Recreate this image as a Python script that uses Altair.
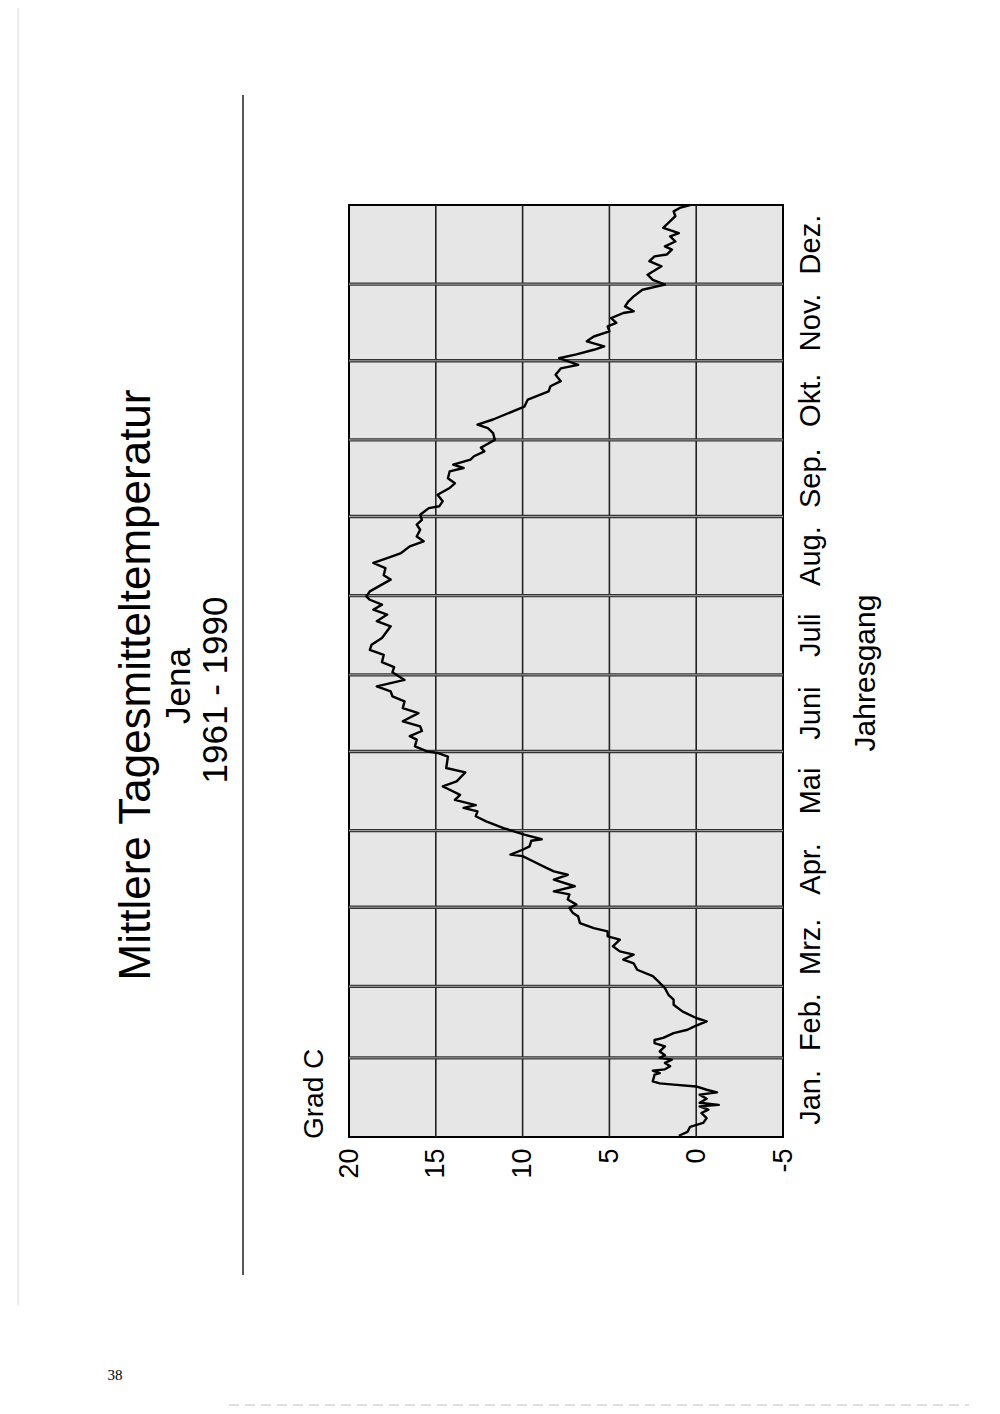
import altair as alt
import pandas as pd

# ---- data (day of year, mean daily temperature in °C) ----
days = [0.5, 2.0, 4.0, 5.5, 7.4, 9.4, 10.7, 12.0, 12.6, 13.4, 15.0, 16.6, 17.5, 18.5, 19.8,
        20.5, 21.0, 21.8, 24.4, 25.0, 26.0, 26.5, 27.7, 29.0, 30.3, 31.0, 32.0, 33.5, 35.5,
        36.8, 38.0, 38.8, 40.7, 42.0, 43.3, 45.3, 46.6, 49.2, 51.8, 53.8, 55.7, 58.3, 59.7,
        61.0, 63.0, 65.5, 68.0, 69.5, 71.4, 72.7, 74.7, 77.3, 78.6, 80.5, 81.8, 83.8, 86.4,
        87.7, 89.7, 91.0, 93.0, 95.0, 96.2, 98.2, 100.8, 102.7, 104.0, 105.3, 108.0, 110.0,
        110.6, 112.5, 113.8, 116.0, 116.6, 118.4, 119.7, 121.0, 123.6, 125.6, 127.5, 128.9,
        130.0, 132.0, 134.0, 136.0, 137.3, 139.3, 142.8, 144.5, 149.0, 150.4, 151.0, 153.0,
        155.6, 157.0, 159.0, 160.8, 162.8, 166.0, 168.0, 170.6, 172.6, 174.5, 176.5, 179.0,
        182.0, 184.0, 186.0, 188.8, 190.8, 192.8, 195.4, 200.0, 202.0, 204.6, 206.5, 208.5,
        210.4, 211.7, 213.7, 218.3, 220.0, 222.8, 224.8, 226.7, 228.7, 231.3, 233.3, 235.2,
        237.8, 239.8, 241.7, 243.7, 246.3, 247.0, 249.0, 251.5, 254.2, 256.0, 258.0, 260.7,
        262.0, 263.3, 265.3, 266.6, 268.5, 270.0, 271.1, 273.0, 275.7, 277.6, 279.0, 281.0,
        286.0, 288.8, 292.0, 294.0, 296.0, 298.5, 301.0, 302.4, 305.0, 306.5, 308.3, 309.6,
        311.6, 313.5, 315.5, 317.5, 318.8, 320.7, 322.7, 323.4, 325.3, 327.3, 329.2, 331.8,
        333.8, 335.7, 337.7, 341.0, 343.0, 344.9, 345.6, 347.5, 348.8, 350.7, 352.7, 354.0,
        356.0, 358.0, 360.6, 362.5, 364.0, 365.0]
temps = [1.0, 0.5, 0.35, -0.4, -0.6, -0.3, -0.7, -0.2, -1.3, -0.2, -0.6, -0.2, -1.2, -0.6, 0.0,
         1.3, 2.1, 2.5, 2.4, 2.1, 2.5, 1.8, 1.5, 1.8, 1.4, 2.1, 1.8, 2.1, 1.8,
         2.4, 2.4, 1.9, 1.3, 0.5, 0.1, -0.6, 0.0, 0.8, 1.3, 1.3, 1.6, 1.8, 2.0,
         2.2, 2.5, 3.4, 3.6, 4.2, 3.6, 4.4, 4.8, 4.4, 5.1, 5.1, 5.9, 6.7, 6.8,
         7.1, 7.3, 6.9, 7.4, 7.3, 8.2, 7.0, 8.2, 7.4, 8.2, 8.6, 9.4, 10.0,
         10.7, 10.0, 9.6, 9.5, 8.9, 9.9, 10.5, 11.1, 12.1, 12.7, 12.6, 13.4,
         12.7, 13.9, 13.6, 14.2, 14.6, 13.8, 13.3, 14.4, 14.3, 14.9, 15.5, 16.2,
         16.1, 16.5, 15.8, 15.9, 16.9, 16.0, 16.9, 16.8, 17.5, 17.6, 18.4, 16.8,
         17.5, 17.4, 18.1, 18.0, 18.8, 18.7, 18.1, 17.6, 18.4, 17.8, 18.6, 18.1,
         18.8, 19.0, 18.8, 17.6, 18.0, 17.9, 18.6, 17.8, 17.0, 16.5, 15.7, 16.1,
         15.9, 16.1, 15.8, 15.9, 15.4, 14.8, 14.6, 14.9, 14.2, 13.9, 14.3, 14.2,
         13.4, 14.0, 13.0, 12.8, 12.2, 12.4, 12.1, 11.6, 11.7, 12.0, 12.6, 11.7,
         9.9, 9.7, 8.5, 8.4, 7.8, 8.1, 7.8, 6.8, 7.9, 6.9, 5.9, 5.3,
         6.3, 5.9, 5.0, 5.1, 4.6, 4.9, 4.2, 3.6, 4.1, 3.9, 3.6, 3.1,
         1.8, 2.5, 2.8, 2.0, 2.7, 2.4, 1.7, 1.4, 1.8, 1.2, 1.5, 1.0,
         1.9, 1.6, 1.2, 1.3, 0.9, 0.35]

month_names = ["Jan.", "Feb.", "Mrz.", "Apr.", "Mai", "Juni", "Juli", "Aug.",
               "Sep.", "Okt.", "Nov.", "Dez."]
month_mid = [15.5, 45, 74.5, 105, 135.5, 166, 196.5, 227.5, 258, 288.5, 319, 349.5]
month_bounds = [31, 59, 90, 120, 151, 181, 212, 243, 273, 304, 334]
temp_grid = [15, 10, 5, 0]
temp_ticks = [20, 15, 10, 5, 0, -5]

FONT = "Liberation Sans"
W, H = 434, 932

curve_df = pd.DataFrame({"day": days, "temp": temps})
months_df = pd.DataFrame({"day": month_mid, "name": month_names})
bounds_df = pd.DataFrame({"day": month_bounds})
tgrid_df = pd.DataFrame({"temp": temp_grid})

xscale = alt.Scale(domain=[-5, 20], reverse=True, nice=False, zero=False)
yscale = alt.Scale(domain=[0, 365], nice=False, zero=False)
xaxis = alt.Axis(values=temp_ticks, labelAngle=270, labelAlign="right",
                 labelBaseline="middle", labelPadding=11, labelFontSize=27,
                 labelFont=FONT, labelColor="black", ticks=False, domain=False,
                 grid=False, title=None, labelOverlap=False, labelFlush=False,
                 labelBound=False, labelExpr="toString(datum.value)")
X = alt.X("temp:Q", scale=xscale, axis=xaxis)
Y = alt.Y("day:Q", scale=yscale, axis=None)

tgrid = alt.Chart(tgrid_df).mark_rule(color="#222", strokeWidth=1.6).encode(x=X)

mgrid_outer = alt.Chart(bounds_df).mark_rule(color="#333", strokeWidth=3.4).encode(y=Y)
mgrid_inner = alt.Chart(bounds_df).mark_rule(color="#b0b0b0", strokeWidth=0.9).encode(y=Y)

curve = alt.Chart(curve_df).mark_line(color="black", strokeWidth=2.4,
                                      strokeJoin="round").encode(
    x=X, y=Y, order="day:Q")

month_text = alt.Chart(months_df).mark_text(
    angle=270, align="center", baseline="middle", fontSize=29, font=FONT,
    color="black").encode(y=Y, x=alt.value(W + 28), text="name:N")


def label(txt, x, y, size, align="center", baseline="middle", angle=270,
          font=FONT):
    return alt.Chart(pd.DataFrame({"t": [txt]})).mark_text(
        angle=angle, align=align, baseline=baseline, fontSize=size,
        font=font, color="black").encode(
        x=alt.value(x), y=alt.value(y), text="t:N")


title1 = label("Mittlere Tagesmitteltemperatur", -199, 480, 44, baseline="alphabetic")
title2 = label("Jena", -159, 481, 35, baseline="alphabetic")
title3 = label("1961 - 1990", -122, 485, 35, baseline="alphabetic")
unit = label("Grad C", -34, H + 2, 28, align="left")
xtitle = label("Jahresgang", 517, 468, 30)
pagenum = label("38", -234, 1170, 15, angle=0, font="Liberation Serif")

sep_line = alt.Chart(pd.DataFrame({"a": [0]})).mark_rule(
    color="#111", strokeWidth=1.4).encode(
    x=alt.value(-106), y=alt.value(-110), y2=alt.value(1070))
edge_line = alt.Chart(pd.DataFrame({"a": [0]})).mark_rule(
    color="#d8d8d8", strokeWidth=1).encode(
    x=alt.value(-331), y=alt.value(-197), y2=alt.value(1100))
bottom_line = alt.Chart(pd.DataFrame({"a": [0]})).mark_rule(
    color="#bdbdbd", strokeWidth=1, strokeDash=[10, 6]).encode(
    x=alt.value(-120), x2=alt.value(620), y=alt.value(1200))

chart = alt.layer(
    tgrid, mgrid_outer, mgrid_inner, curve, month_text,
    title1, title2, title3, unit, xtitle, pagenum, sep_line, edge_line, bottom_line
).properties(
    width=W, height=H,
    padding={"left": 341, "top": 197, "right": 190, "bottom": 270},
    autosize=alt.AutoSizeParams(type="none"),
    background="white",
).configure_view(
    fill="#e6e6e6", stroke="black", strokeWidth=2
)

chart.save("out.html", embed_options={"renderer": "svg", "actions": False})
